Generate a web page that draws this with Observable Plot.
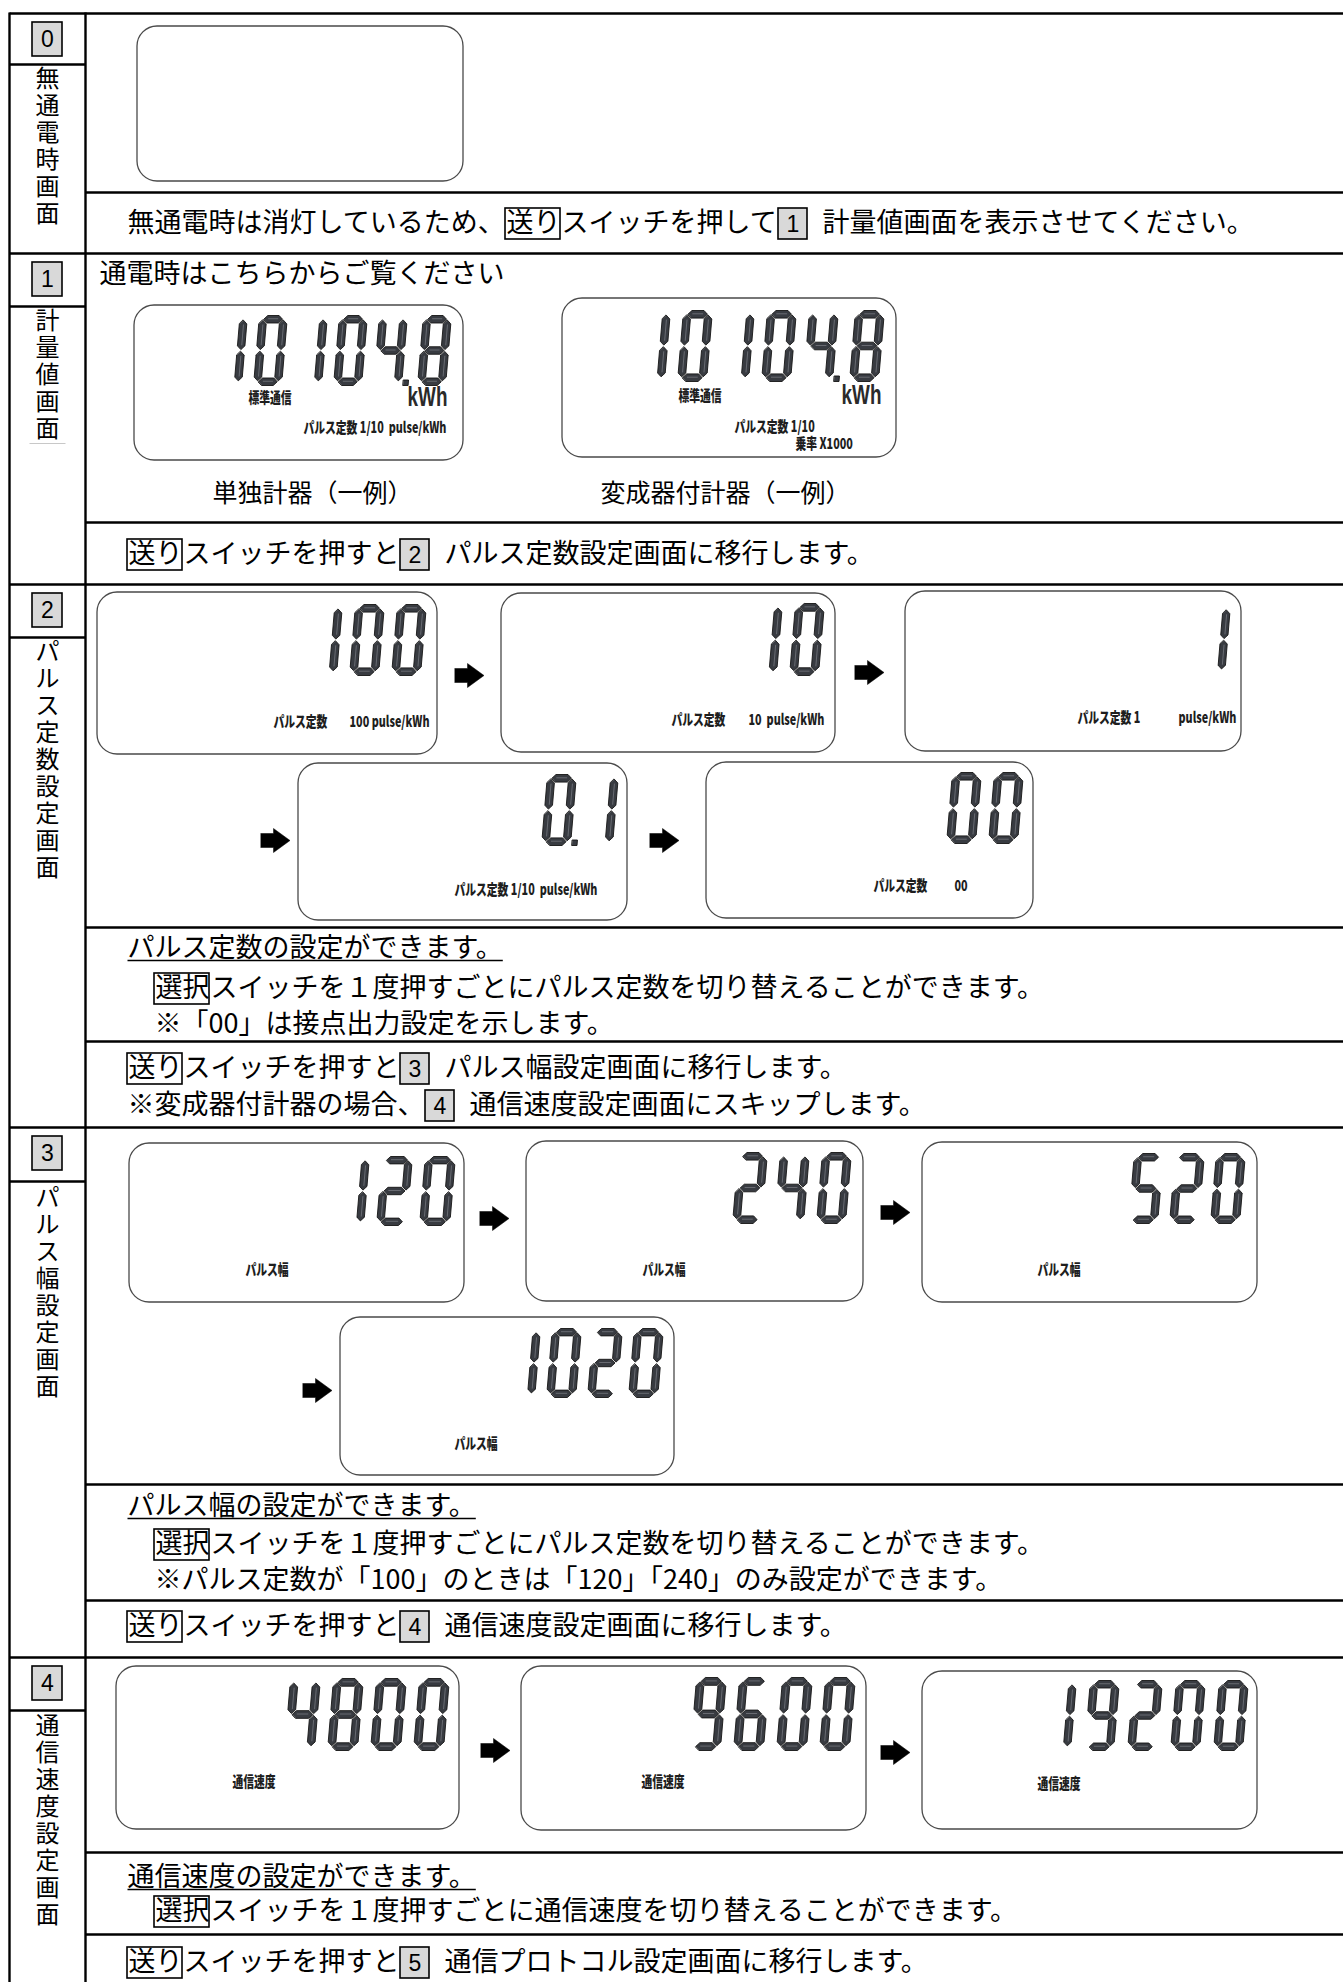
<!DOCTYPE html>
<html><head><meta charset="utf-8">
<script src="https://cdn.jsdelivr.net/npm/d3@7"></script>
<script src="https://cdn.jsdelivr.net/npm/@observablehq/plot@0.6"></script>
<style>body{margin:0;background:#fff}</style>
</head><body><div id="chart"></div>
<script>
// ================= DATA =================
const sectionNumbers = ["0", "1", "2", "3", "4"];
const sectionTitles = ["無通電時画面", "計量値画面", "パルス定数設定画面", "パルス幅設定画面", "通信速度設定画面"];
// LCD readings shown on each screen ("" = blank screen)
const screenValues = ["", "10104.8", "10104.8", "100", "10", "1", "0.1", "00", "120", "240", "520", "1020", "4800", "9600", "19200"];
// small printed labels inside the screens
const lcdLabels = [
  "標準通信", "パルス定数 1/10  pulse/kWh",
  "標準通信", "パルス定数 1/10", "乗率 X1000",
  "パルス定数", "100 pulse/kWh",
  "パルス定数", "10  pulse/kWh",
  "パルス定数 1", "pulse/kWh",
  "パルス定数 1/10  pulse/kWh",
  "パルス定数", "00",
  "パルス幅", "パルス幅", "パルス幅", "パルス幅",
  "通信速度", "通信速度", "通信速度"
];
const unitLabels = ["kWh", "kWh"];
const captions = ["単独計器（一例）", "変成器付計器（一例）"];
const noteLines = [
  [{t: "無通電時は消灯しているため、"}, {key: "送り"}, {t: "スイッチを押して"}, {num: "1"}, {t: "計量値画面を表示させてください。"}],
  [{t: "通電時はこちらからご覧ください"}],
  [{key: "送り"}, {t: "スイッチを押すと"}, {num: "2"}, {t: "パルス定数設定画面に移行します。"}],
  [{t: "パルス定数の設定ができます。"}],
  [{key: "選択"}, {t: "スイッチを１度押すごとにパルス定数を切り替えることができます。"}],
  [{t: "※「00」は接点出力設定を示します。"}],
  [{key: "送り"}, {t: "スイッチを押すと"}, {num: "3"}, {t: "パルス幅設定画面に移行します。"}],
  [{t: "※変成器付計器の場合、"}, {num: "4"}, {t: "通信速度設定画面にスキップします。"}],
  [{t: "パルス幅の設定ができます。"}],
  [{key: "選択"}, {t: "スイッチを１度押すごとにパルス定数を切り替えることができます。"}],
  [{t: "※パルス定数が「100」のときは「120」「240」のみ設定ができます。"}],
  [{key: "送り"}, {t: "スイッチを押すと"}, {num: "4"}, {t: "通信速度設定画面に移行します。"}],
  [{t: "通信速度の設定ができます。"}],
  [{key: "選択"}, {t: "スイッチを１度押すごとに通信速度を切り替えることができます。"}],
  [{key: "送り"}, {t: "スイッチを押すと"}, {num: "5"}, {t: "通信プロトコル設定画面に移行します。"}]
];

// ================= LAYOUT (pixels) =================
const W = 1343, H = 1982;
const FF = "'Noto Sans CJK JP', 'Noto Sans CJK SC', sans-serif";
const FS = 27, LS = 0;
const sectionTops = [13, 253, 584, 1127, 1657];
const innerRules = [192, 522, 927, 1041, 1484, 1600, 1852, 1934];
const leftRules = [64, 306, 637, 1181, 1710];
const colX = [9, 85];
const titleStart = [78, 320, 651, 1197, 1725];
const titleFS = 24, titleStep = 27;
// screens: x1, x2, y1, y2
const screenBox = [
  [137, 463, 26, 181],
  [134, 463, 305, 460], [562, 896, 298, 457],
  [97, 437, 592, 754], [501, 835, 593, 752], [905, 1241, 591, 751],
  [298, 627, 763, 920], [706, 1033, 762, 918],
  [129, 464, 1143, 1302], [526, 863, 1141, 1301], [922, 1257, 1142, 1302],
  [340, 674, 1317, 1475],
  [116, 459, 1666, 1829], [521, 866, 1666, 1830], [922, 1257, 1671, 1829]
];
// digits: right edge, top, height, pitch, width
const digitBox = [
  null,
  [451, 315, 70, 40, 34], [884, 310, 71, 42, 35],
  [426, 604, 71, 42, 35], [824, 603, 72, 42, 35], [1230, 605, 68, 42, 35],
  [618, 774, 71, 38, 35], [1023, 772, 71, 42, 35],
  [455, 1156, 69, 43, 36], [851, 1152, 71, 42, 35], [1245, 1153, 70, 41, 35],
  [663, 1328, 69, 41, 35],
  [449, 1678, 72, 43, 36], [855, 1677, 73, 43, 36], [1248, 1680, 70, 43, 35]
];
const lcdLabelPos = [
  [248, 398], [303, 428],
  [678, 396], [734, 427], [795, 444],
  [273, 722], [349, 722],
  [671, 720], [748, 720],
  [1077, 718], [1178, 718],
  [454, 890],
  [873, 886], [954, 886],
  [245, 1270], [642, 1270], [1037, 1270], [454, 1444],
  [232, 1782], [641, 1782], [1037, 1784]
];
const unitPos = [[447, 397], [881, 395]];
const captionPos = [[212, 493], [600, 493]];
const arrowPos = [[469, 675], [869, 672], [275, 840], [664, 840], [494, 1218], [895, 1212], [317, 1390], [495, 1750], [895, 1752]];
const noteLayout = [[127, 223], [99, 274], [127, 554], [127, 948], [154, 988], [154, 1024], [127, 1068], [127, 1105],
  [127, 1506], [154, 1544], [154, 1580], [127, 1626], [127, 1877], [154, 1911], [127, 1962]];
const underlined = [3, 8, 12];

// ================= BUILD =================
const ctx = document.createElement("canvas").getContext("2d");
function tw(s) { ctx.font = `${FS}px ${FF}`; return ctx.measureText(s).width + LS * [...s].length; }

const tableLines = [];
sectionTops.forEach(y => tableLines.push({x1: colX[0], x2: W, y1: y, y2: y}));
innerRules.forEach(y => tableLines.push({x1: colX[1], x2: W, y1: y, y2: y}));
leftRules.forEach(y => tableLines.push({x1: colX[0], x2: colX[1], y1: y, y2: y}));
colX.forEach(x => tableLines.push({x1: x, x2: x, y1: sectionTops[0] - 1, y2: H}));

const grayBoxes = [], keyBoxes = [], bodyText = [], numText = [], underlines = [];
sectionNumbers.forEach((n, i) => {
  const t = sectionTops[i];
  grayBoxes.push({x1: 32, x2: 62, y1: t + 9, y2: t + 43});
  numText.push({x: 47, y: t + 26, text: n});
});
// vertical (stacked) section titles: one multi-line text per section
const titleText = sectionTitles.map((s, i) => {
  const chars = [...s];
  return {x: 47, y: titleStart[i] + (chars.length - 1) * titleStep / 2, text: chars.join("\n")};
});

noteLines.forEach((segs, i) => {
  const [x0, cy] = noteLayout[i];
  let cur = x0;
  segs.forEach(s => {
    if (s.t !== undefined) { bodyText.push({x: cur, y: cy, text: s.t}); if (underlined.includes(i)) underlines.push({x1: cur, x2: cur + tw(s.t) - LS, y1: cy + 12, y2: cy + 12}); cur += tw(s.t); }
    else if (s.key) { const w = tw(s.key); keyBoxes.push({x1: cur, x2: cur + w + 1, y1: cy - 15, y2: cy + 16}); bodyText.push({x: cur + 1, y: cy, text: s.key}); cur += w + 2; }
    else if (s.num) { grayBoxes.push({x1: cur + 1, x2: cur + 30, y1: cy - 15, y2: cy + 16}); numText.push({x: cur + 15.5, y: cy + 1, text: s.num}); cur += 30 + 15; }
  });
});

const screens = screenBox.map(([x1, x2, y1, y2], i) => ({x1, x2, y1, y2, value: screenValues[i]}));

// seven-segment glyphs
const SEGS = {"0": "abcdef", "1": "bc", "2": "abged", "3": "abgcd", "4": "fgbc", "5": "afgcd", "6": "afgedc", "7": "abc", "8": "abcdefg", "9": "abcdfg"};
const segPts = [], hlPts = [];
let pid = 0;
screens.forEach((s, si) => {
  const p = digitBox[si];
  if (!p || !s.value) return;
  const [R, top, h, pitch, w] = p;
  const cells = [];
  for (const c of s.value) { if (c === ".") cells[cells.length - 1].dot = true; else cells.push({c, dot: false}); }
  const rights = [];
  let r = R;
  for (let i = cells.length - 1; i >= 0; i--) { rights[i] = r; r -= pitch + (i > 0 && cells[i - 1].dot ? 4 : 0); }
  const sl = 6 * h / 71, t = 7.6 * h / 71, ht = t / 2, g = 0.9, uw = w - sl;
  cells.forEach((cell, i) => {
    const left = rights[i] - w;
    const P = (u, v) => [left + u + sl * (1 - v / h), top + v];
    const hor = (v) => { const ua = ht + g, ub = uw - ht - g; return {poly: [[ua, v], [ua + ht, v - ht], [ub - ht, v - ht], [ub, v], [ub - ht, v + ht], [ua + ht, v + ht]], hl: [[ua + ht + 1, v - 0.5], [ub - ht - 1, v - 0.5]]}; };
    const ver = (u, va, vb) => ({poly: [[u, va], [u + ht, va + ht], [u + ht, vb - ht], [u, vb], [u - ht, vb - ht], [u - ht, va + ht]], hl: [[u + 0.5, va + ht + 1], [u + 0.5, vb - ht - 1]]});
    const defs = {
      a: hor(ht), g: hor(h / 2), d: hor(h - ht),
      f: ver(ht, ht + g, h / 2 - g), e: ver(ht, h / 2 + g, h - ht - g),
      b: ver(uw - ht, ht + g, h / 2 - g), c: ver(uw - ht, h / 2 + g, h - ht - g)
    };
    for (const k of SEGS[cell.c]) {
      const id = pid++;
      defs[k].poly.forEach(([u, v]) => { const [x, y] = P(u, v); segPts.push({id, x, y}); });
      defs[k].hl.forEach(([u, v]) => { const [x, y] = P(u, v); hlPts.push({id, x, y}); });
    }
    if (cell.dot) {
      const id = pid++;
      [[uw + 1.5, h - 5.5], [uw + 6.5, h - 5.5], [uw + 6.5, h], [uw + 1.5, h]].forEach(([u, v]) => { const [x, y] = P(u, v); segPts.push({id, x, y}); });
    }
  });
});

const arrowPts = [];
arrowPos.forEach(([cx, cy], i) => {
  [[-14.5, -7], [-2, -7], [-2, -12], [14.5, 0], [-2, 12], [-2, 7], [-14.5, 7]].forEach(([dx, dy]) => arrowPts.push({id: i, x: cx + dx, y: cy + dy}));
});

const lcdText = lcdLabels.map((text, i) => ({text, x: lcdLabelPos[i][0], y: lcdLabelPos[i][1]}));
const unitText = unitLabels.map((text, i) => ({text, x: unitPos[i][0], y: unitPos[i][1]}));
const captionText = captions.map((text, i) => ({text, x: captionPos[i][0], y: captionPos[i][1]}));

const chart = Plot.plot({
  width: W, height: H, margin: 0,
  x: {domain: [0, W], range: [0, W]},
  y: {domain: [0, H], range: [0, H]},
  axis: null,
  style: {fontFamily: FF, background: "white", color: "black"},
  marks: [
    Plot.rect(screens, {x1: "x1", x2: "x2", y1: "y1", y2: "y2", rx: 20, fill: "white", stroke: "#4a4a4a", strokeWidth: 1.3}),
    Plot.line(segPts, {x: "x", y: "y", z: "id", fill: "#383b41", stroke: "#151515", strokeWidth: 0.9, curve: "linear-closed"}),
    Plot.line(hlPts, {x: "x", y: "y", z: "id", stroke: "#7c8086", strokeWidth: 0.7}),
    Plot.line(arrowPts, {x: "x", y: "y", z: "id", fill: "black", stroke: "black", strokeWidth: 0.5, curve: "linear-closed"}),
    Plot.link(tableLines, {x1: "x1", y1: "y1", x2: "x2", y2: "y2", stroke: "black", strokeWidth: 2.4}),
    Plot.link([{x1: 29, x2: 65, y1: 443, y2: 443}], {x1: "x1", y1: "y1", x2: "x2", y2: "y2", stroke: "#c8c8c8", strokeWidth: 1}),
    Plot.rect(grayBoxes, {x1: "x1", x2: "x2", y1: "y1", y2: "y2", fill: "#d9d9d9", stroke: "black", strokeWidth: 1.6}),
    Plot.rect(keyBoxes, {x1: "x1", x2: "x2", y1: "y1", y2: "y2", fill: "none", stroke: "black", strokeWidth: 1.6}),
    Plot.link(underlines, {x1: "x1", y1: "y1", x2: "x2", y2: "y2", stroke: "black", strokeWidth: 1.4}),
    Plot.text(bodyText, {x: "x", y: "y", text: "text", textAnchor: "start", lineAnchor: "middle", fontSize: FS, fontFamily: FF, fill: "black"}),
    Plot.text(captionText, {x: "x", y: "y", text: "text", textAnchor: "start", lineAnchor: "middle", fontSize: 25, fontFamily: FF, fill: "black"}),
    Plot.text(titleText, {x: "x", y: "y", text: "text", textAnchor: "middle", lineAnchor: "middle", lineHeight: titleStep / titleFS, fontSize: titleFS, fontFamily: FF, fill: "black"}),
    Plot.text(numText, {x: "x", y: "y", text: "text", textAnchor: "middle", lineAnchor: "middle", fontSize: 23, fontFamily: "'Liberation Sans', Arial, sans-serif", fill: "black"}),
    Plot.text(lcdText, {x: "x", y: "y", text: "text", textAnchor: "start", lineAnchor: "middle", fontSize: 15, fontWeight: 900, fontFamily: FF, fill: "#1e1e1e", ariaDescription: "lcd"}),
    Plot.text(unitText, {x: "x", y: "y", text: "text", textAnchor: "end", lineAnchor: "middle", fontSize: 27, fontWeight: "bold", fontFamily: "'Liberation Sans', Arial, sans-serif", fill: "#2a2a2a", ariaDescription: "unit"})
  ]
});

// horizontally condense the LCD print around each label's anchor
function squeeze(sel, rows, k) {
  d3.select(chart).selectAll(sel).each(function (_, i) {
    const px = rows[i].x;
    const old = this.getAttribute("transform") || "";
    this.setAttribute("transform", `translate(${px},0) scale(${k},1) translate(${-px},0) ${old}`);
  });
}
squeeze('g[aria-description="lcd"] > text', lcdText, 0.72);
squeeze('g[aria-description="unit"] > text', unitText, 0.7);
document.getElementById("chart").appendChild(chart);
</script>
</body></html>
